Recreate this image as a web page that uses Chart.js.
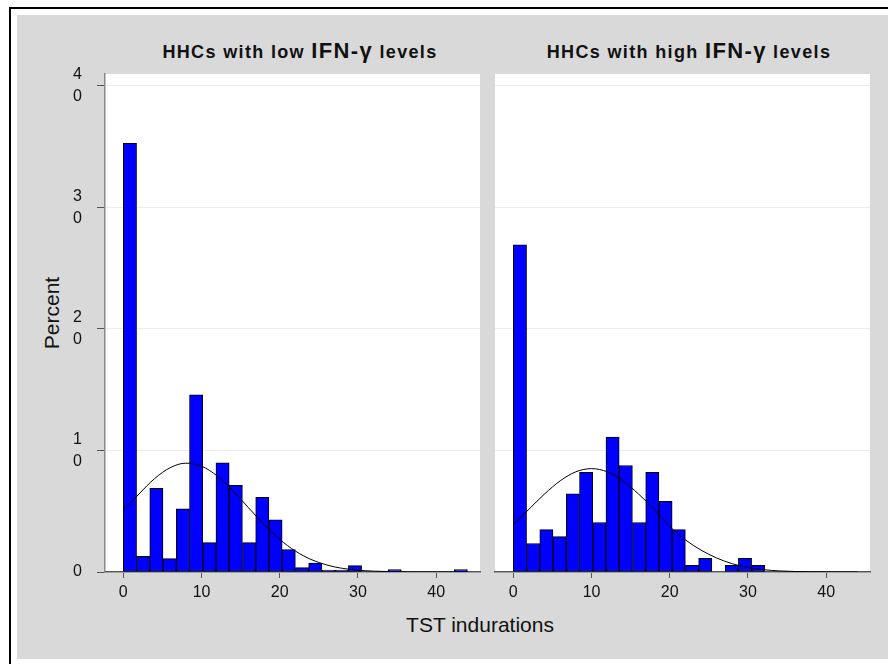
<!DOCTYPE html>
<html>
<head>
<meta charset="utf-8">
<script src="https://cdn.jsdelivr.net/npm/chart.js@4"></script>
<style>
  html, body { margin:0; padding:0; width:888px; height:664px; overflow:hidden; background:#fff; font-family:"Liberation Sans", Arial, sans-serif; }
  #frame { position:absolute; left:9px; top:7px; width:900px; height:700px; border-left:2px solid #000; border-top:2px solid #000; }
  #grey { position:absolute; left:17px; top:15px; width:871px; height:644px; background:#d9d9d9; }
  canvas { position:absolute; }
  .title { position:absolute; top:38px; width:400px; text-align:center; font-weight:bold; font-size:18px; color:#111; letter-spacing:1.35px; white-space:nowrap; }
  .title .big { font-size:22px; }
  #ylab { position:absolute; left:52px; top:313px; transform:translate(-50%,-50%) rotate(-90deg); font-size:21px; color:#111; white-space:nowrap; }
  #xlab { position:absolute; left:480px; top:625px; transform:translate(-50%,-50%); font-size:21px; color:#111; white-space:nowrap; }
</style>
</head>
<body>
<div id="frame"></div>
<div id="grey"></div>
<div class="title" style="left:100px">HHCs with low <span class="big">IFN-γ</span> levels</div>
<div class="title" style="left:489px">HHCs with high <span class="big">IFN-γ</span> levels</div>
<div id="ylab">Percent</div>
<div id="xlab">TST indurations</div>
<canvas id="cL" width="475" height="644" style="left:17px;top:15px"></canvas>
<canvas id="cR" width="401" height="644" style="left:487px;top:15px"></canvas>
<script>
// ---- data ----
const binCenters = [0.85, 2.54, 4.23, 5.92, 7.62, 9.31, 11.00, 12.69, 14.38, 16.08, 17.77, 19.46, 21.15,
                    22.85, 24.54, 26.23, 27.92, 29.62, 31.31, 33.00, 34.69, 36.38, 38.08, 39.77, 41.46, 43.15];
const lowPercent  = [35.25, 1.29, 6.87, 1.10, 5.19, 14.56, 2.42, 8.98, 7.12, 2.42, 6.13, 4.29, 1.84,
                     0.36, 0.74, 0.16, 0.16, 0.52, 0, 0, 0.19, 0, 0, 0, 0, 0.19];
const highPercent = [26.9, 2.34, 3.49, 2.91, 6.43, 8.19, 4.07, 11.10, 8.76, 4.07, 8.19, 5.82, 3.49,
                     0.55, 1.13, 0, 0.55, 1.13, 0.55, 0, 0, 0, 0, 0, 0, 0];
const curveX     = [0, 2, 4, 6, 8, 10, 12, 14, 16, 18, 20, 22, 24, 26, 28, 30, 32, 34, 36, 38, 40, 42, 44];
const lowCurve   = [5.08, 6.41, 7.68, 8.58, 8.95, 8.70, 7.90, 6.69, 5.29, 3.90, 2.68, 1.72, 1.03, 0.58, 0.30, 0.15, 0.07, 0.03, 0.01, 0, 0, 0, 0];
const highCurve  = [3.89, 5.16, 6.42, 7.50, 8.24, 8.50, 8.24, 7.50, 6.42, 5.16, 3.75, 2.65, 1.80, 1.15, 0.68, 0.37, 0.19, 0.09, 0.04, 0.02, 0.01, 0, 0];
const xTickValues = [0, 10, 20, 30, 40];
const yTickValues = [0, 10, 20, 30, 40];
// ---- end data ----

const FONT = "'Liberation Sans', Arial, sans-serif";

const plotBg = {
  id: 'plotBg',
  beforeDraw(chart) {
    const {ctx, chartArea: a} = chart;
    ctx.save();
    ctx.fillStyle = '#ffffff';
    ctx.fillRect(a.left, a.top, a.right - a.left, a.bottom - a.top);
    ctx.restore();
  }
};

function makeChart(id, bars, curve, showY, padding) {
  return new Chart(document.getElementById(id), {
    type: 'bar',
    data: {
      datasets: [
        {
          type: 'line',
          data: curveX.map((x, i) => ({x: x, y: curve[i]})),
          borderColor: '#000',
          borderWidth: 1,
          pointRadius: 0,
          fill: false,
          cubicInterpolationMode: 'monotone',
          order: 0
        },
        {
          type: 'bar',
          data: binCenters.map((x, i) => ({x: x, y: bars[i]})),
          backgroundColor: '#0000ff',
          borderColor: '#000',
          borderWidth: 1,
          borderSkipped: false,
          barPercentage: 1,
          categoryPercentage: 1,
          order: 1
        }
      ]
    },
    options: {
      responsive: false,
      animation: false,
      layout: { padding: padding },
      plugins: { legend: { display: false }, tooltip: { enabled: false } },
      scales: {
        x: {
          type: 'linear',
          offset: false,
          min: -2.34,
          max: 45.6,
          afterBuildTicks: s => { s.ticks = xTickValues.map(v => ({value: v})); },
          afterFit: s => { s.height = 87; },
          grid: { offset: false, drawOnChartArea: false, drawTicks: true, tickLength: 6, tickColor: '#555', tickWidth: 1 },
          border: { display: true, color: '#555', width: 1.5 },
          ticks: { color: '#111', font: { family: FONT, size: 16 }, padding: 5, maxRotation: 0,
                   callback: v => String(v) }
        },
        y: {
          type: 'linear',
          min: 0,
          max: 40.95,
          afterBuildTicks: s => { s.ticks = yTickValues.map(v => ({value: v})); },
          afterFit: s => { s.width = showY ? 88 : 0; },
          grid: { display: true, drawOnChartArea: true, drawTicks: showY, tickLength: 8, color: '#e8eeee', tickColor: '#555', lineWidth: 1 },
          border: { display: showY, color: '#8a8a8a', width: 1.5 },
          ticks: { display: showY, color: '#111', font: { family: FONT, size: 16, lineHeight: 1.375 }, padding: 15,
                   callback: v => v === 0 ? '0' : String(v).split('') }
        }
      }
    },
    plugins: [plotBg]
  });
}

makeChart('cL', lowPercent, lowCurve, true, {top: 59, right: 12, left: 0, bottom: 0});
makeChart('cR', highPercent, highCurve, false, {top: 59, right: 18, left: 8, bottom: 0});
</script>
</body>
</html>
